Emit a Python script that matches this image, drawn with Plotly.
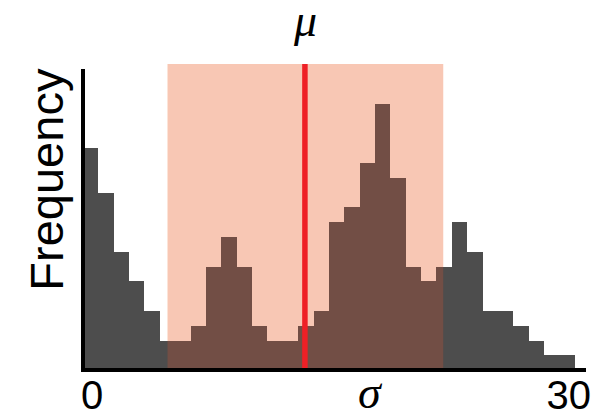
import plotly.graph_objects as go

# ---- data ----
bin_index = list(range(32))
counts = [15, 12, 8, 6, 4, 2, 2, 3, 7, 9, 7, 3, 2, 2, 3, 4,
          10, 11, 14, 18, 13, 7, 6, 7, 10, 8, 4, 4, 3, 2, 1, 1]
mu_value = 13.94
interval = [5.0, 22.94]
sigma_pos = 18.2
tick_positions = [0.1, 31.1]
tick_labels = ["0", "30"]

W, H = 611, 417
ML, MR, MT, MB = 85, 25.3, 69.3, 48.7
plot_h = H - MT - MB

def py(px):  # pixel row -> paper y
    return (H - MB - px) / plot_h

def pxx(px):  # pixel column -> paper x
    return (px - ML) / (W - ML - MR)

fig = go.Figure()
fig.add_trace(go.Bar(x=bin_index, y=counts, width=1,
                     marker=dict(color="#4d4d4d", line=dict(width=0)),
                     showlegend=False, hoverinfo="skip"))

# shaded interval: light underlay + tinted overlay
fig.add_shape(type="rect", xref="x", yref="paper",
              x0=interval[0], x1=interval[1], y0=0, y1=py(64.3),
              fillcolor="rgb(255,238,224)", line=dict(width=0), layer="below")
fig.add_shape(type="rect", xref="x", yref="paper",
              x0=interval[0], x1=interval[1], y0=0, y1=py(64.3),
              fillcolor="rgba(229,85,49,0.25)", line=dict(width=0), layer="above")
# mean line
fig.add_shape(type="line", xref="x", yref="paper",
              x0=mu_value, x1=mu_value, y0=0, y1=py(64.3),
              line=dict(color="#ee2026", width=5.5), layer="above")

fig.add_annotation(text="<i>μ</i>", x=mu_value, xref="x", y=py(21), yref="paper",
                   showarrow=False, xanchor="center", yanchor="middle",
                   font=dict(family="Liberation Serif", size=46, color="black"))
fig.add_annotation(text="<i>σ</i>", x=sigma_pos, xref="x", y=py(393), yref="paper",
                   showarrow=False, xanchor="center", yanchor="middle",
                   font=dict(family="Liberation Serif", size=46, color="black"))
fig.add_annotation(text="Frequency", x=pxx(47), xref="paper", y=py(179), yref="paper",
                   showarrow=False, xanchor="center", yanchor="middle", textangle=-90,
                   font=dict(family="Liberation Sans", size=47, color="black"))

fig.update_layout(
    width=W, height=H,
    margin=dict(l=ML, r=MR, t=MT, b=MB, pad=0, autoexpand=False),
    paper_bgcolor="white", plot_bgcolor="white",
    bargap=0,
    xaxis=dict(range=[-0.37, 32.23], showgrid=False, zeroline=False, automargin=False,
               showline=True, linecolor="black", linewidth=4.3,
               tickmode="array", tickvals=tick_positions, ticktext=tick_labels,
               ticks="", ticklabelstandoff=-11,
               tickfont=dict(family="Liberation Sans", size=40, color="black")),
    yaxis=dict(range=[0.149, 20.34], showgrid=False, zeroline=False, automargin=False,
               showline=True, linecolor="black", linewidth=4,
               showticklabels=False, ticks=""),
)

fig.write_html("out.html")
